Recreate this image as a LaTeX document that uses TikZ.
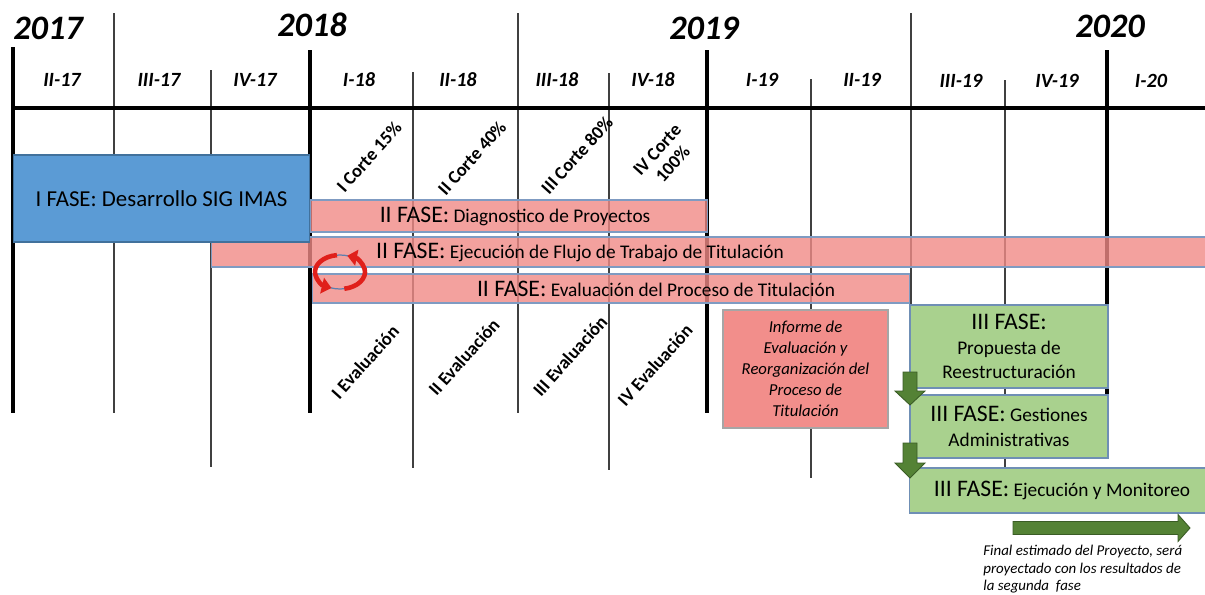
\documentclass[tikz,border=0pt]{standalone}
\usepackage{fontspec}
\setmainfont{Carlito}
\usetikzlibrary{calc,arrows.meta}
\definecolor{bluefill}{HTML}{5B9BD5}
\definecolor{blueborder}{HTML}{41719C}
\definecolor{pinkfill}{HTML}{F08A86}
\definecolor{barborder}{HTML}{7F9BC2}
\definecolor{informefill}{HTML}{F28E8B}
\definecolor{informeborder}{HTML}{A6A6A6}
\definecolor{greenfill}{HTML}{A9D18E}
\definecolor{greenborder}{HTML}{6F8FB5}
\definecolor{arrowgreen}{HTML}{548235}
\definecolor{arrowborder}{HTML}{3A5C25}
\definecolor{iconred}{HTML}{E0201B}
\definecolor{iconblue}{HTML}{5B7FB0}
\newcommand\fasebig[1]{{\fontsize{13.5}{15}\selectfont #1}}
\begin{document}
\begin{tikzpicture}[x=0.02cm,y=-0.02cm,
  thickline/.style={line width=2.3pt,black},
  thinline/.style={line width=0.7pt,black!75},
  yearlbl/.style={font=\fontsize{19.5}{22}\selectfont\bfseries\itshape,inner sep=0},
  qtrlbl/.style={font=\fontsize{11.5}{13}\selectfont\bfseries\itshape,inner sep=0},
  rotlbl/.style={font=\fontsize{10.5}{12}\selectfont\bfseries,rotate=48,inner sep=0,align=center},
  pinkbar/.style={draw=barborder,fill=pinkfill,fill opacity=0.8,line width=0.6pt,inner sep=0,rectangle},
  bartext/.style={font=\fontsize{11}{13}\selectfont,inner sep=0},
  greenbox/.style={draw=greenborder,fill=greenfill,line width=0.6pt,inner sep=0,align=center,font=\fontsize{11}{14}\selectfont},
  blockarrow/.style={fill=arrowgreen,draw=arrowborder,line width=0.5pt,line join=miter},
  iconarc/.style={iconred,line width=2.6pt,-{Triangle[length=5.5pt,width=9pt]}}
]
\useasboundingbox (0,0) rectangle (1205,595);
\fill[white] (0,0) rectangle (1205,595);

% grid lines
\draw[thinline] (114,13) -- (114,413);
\draw[thinline] (211,70) -- (211,467);
\draw[thinline] (413,72) -- (413,468);
\draw[thinline] (518,13) -- (518,413);
\draw[thinline] (609,73) -- (609,470);
\draw[thinline] (811,79) -- (811,478);
\draw[thinline] (911,13) -- (911,465);
\draw[thinline] (1005,80) -- (1005,467);
\draw[thickline] (13,47) -- (13,413);
\draw[thickline] (310,50) -- (310,413);
\draw[thickline] (707,50) -- (707,413);
\draw[thickline] (1107,50) -- (1107,395);
\draw[line width=2pt,black] (13,108) -- (1205,108);

% years
\node[yearlbl] (y2017) at (48,28) {2017};
\node[yearlbl] (y2018) at (312,25) {2018};
\node[yearlbl] (y2019) at (704,28) {2019};
\node[yearlbl] (y2020) at (1110,26) {2020};

% quarters
\node[qtrlbl] (q1) at (62,80) {II-17};
\node[qtrlbl] (q2) at (159,80) {III-17};
\node[qtrlbl] (q3) at (255,80) {IV-17};
\node[qtrlbl] (q4) at (359,80) {I-18};
\node[qtrlbl] (q5) at (458,80) {II-18};
\node[qtrlbl] (q6) at (557,80) {III-18};
\node[qtrlbl] (q7) at (653,80) {IV-18};
\node[qtrlbl] (q8) at (762,80) {I-19};
\node[qtrlbl] (q9) at (862,80) {II-19};
\node[qtrlbl] (q10) at (961,81) {III-19};
\node[qtrlbl] (q11) at (1057,81) {IV-19};
\node[qtrlbl] (q12) at (1151,81) {I-20};

% pink bars
\node[pinkbar,minimum width=7.96cm,minimum height=0.64cm] (bar1) at (509,216) {};
\node[pinkbar,minimum width=19.92cm,minimum height=0.6cm] (bar2) at (709,252) {};
\node[pinkbar,minimum width=11.96cm,minimum height=0.58cm] (bar3) at (611,288.5) {};

% blue box
\node[draw=blueborder,fill=bluefill,line width=0.6pt,minimum width=5.94cm,minimum height=1.74cm,inner sep=0,
      font=\fontsize{13}{15}\selectfont] (fase1) at (161.5,198.5) {I FASE: Desarrollo SIG IMAS};

% bar texts
\node[bartext] (t1) at (515,216) {\fasebig{II FASE:} Diagnostico de Proyectos};
\node[bartext] (t2) at (580,252) {\fasebig{II FASE:} Ejecución de Flujo de Trabajo de Titulación};
\node[bartext] (t3) at (656,289) {\fasebig{II FASE:} Evaluación del Proceso de Titulación};

% cycle icon
\coordinate (ic) at (340,272);
\draw[iconblue,line width=0.7pt] (ic) ellipse [x radius=25, y radius=17];
\draw[iconarc] (ic) ++(-97:25 and 17) arc[start angle=-97,end angle=-250,x radius=25,y radius=17];
\draw[iconarc] (ic) ++(-280:25 and 17) arc[start angle=-280,end angle=-433,x radius=25,y radius=17];

% corte labels
\node[rotlbl] (c1) at (369,157) {I Corte 15\%};
\node[rotlbl] (c2) at (472,158) {II Corte 40\%};
\node[rotlbl] (c3) at (577,155) {III Corte 80\%};
\node[rotlbl] (c4) at (665,157) {IV Corte\\100\%};

% evaluacion labels
\node[rotlbl] (e1) at (365,362) {I Evaluación};
\node[rotlbl] (e2) at (464,357) {II Evaluación};
\node[rotlbl] (e3) at (570,356) {III Evaluación};
\node[rotlbl] (e4) at (655,365) {IV Evaluación};

% informe
\node[draw=informeborder,fill=informefill,line width=0.6pt,minimum width=3.3cm,minimum height=2.36cm,inner sep=0,
      align=center,font=\fontsize{9.5}{12}\selectfont\itshape] (informe) at (805.5,369)
      {Informe de\\Evaluación y\\Reorganización del\\Proceso de\\Titulación};

% green boxes
\node[greenbox,minimum width=3.96cm,minimum height=1.66cm] (g1) at (1009,346.5)
      {\fasebig{III FASE:}\\Propuesta de\\Reestructuración};
\node[greenbox,minimum width=3.96cm,minimum height=1.26cm] (g2) at (1009,426.5)
      {\fasebig{III FASE:} Gestiones\\Administrativas};
\node[greenbox,minimum width=5.96cm,minimum height=0.9cm] (g3) at (1058,490.5) {};
\node[bartext] (g3t) at (1062,490) {\fasebig{III FASE:} Ejecución y Monitoreo};

% block arrows
\coordinate (a1) at (910,405);
\draw[blockarrow] (a1) -- ++(-15,-14) -- ++(8,0) -- ++(0,-19) -- ++(14,0) -- ++(0,19) -- ++(8,0) -- cycle;
\coordinate (a2) at (910,478);
\draw[blockarrow] (a2) -- ++(-15,-15) -- ++(8,0) -- ++(0,-20) -- ++(14,0) -- ++(0,20) -- ++(8,0) -- cycle;
\coordinate (a3) at (1190,528);
\draw[blockarrow] (a3) -- ++(-12,-13.5) -- ++(0,7) -- ++(-165,0) -- ++(0,13) -- ++(165,0) -- ++(0,7) -- cycle;

% note
\node[anchor=north west,inner sep=0,align=left,font=\fontsize{8.5}{10}\selectfont\itshape] (note) at (983,545)
  {Final estimado del Proyecto, será\\proyectado con los resultados de\\la segunda\ \ fase};
\end{tikzpicture}
\end{document}
